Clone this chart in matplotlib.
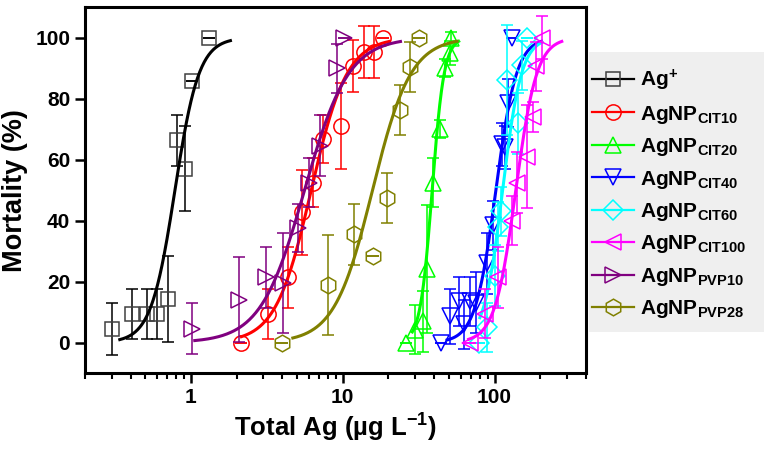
import matplotlib
matplotlib.use('Agg')
import matplotlib.pyplot as plt
from matplotlib.patches import Rectangle
import numpy as np

plt.rcParams['font.family'] = ['Liberation Sans', 'DejaVu Sans']
plt.rcParams['font.weight'] = 'bold'
plt.rcParams['mathtext.fontset'] = 'custom'
plt.rcParams['mathtext.rm'] = 'Liberation Sans:bold'
plt.rcParams['mathtext.bf'] = 'Liberation Sans:bold'
plt.rcParams['mathtext.default'] = 'bf'

# measured points (concentration in ug/L, mortality %, error)
ag_x = [0.30, 0.41, 0.51, 0.60, 0.71, 0.81, 0.92, 1.01, 1.32]
ag_y = [4.6, 9.4, 9.4, 9.4, 14.3, 66.3, 57, 85.7, 100]
ag_e = [8.5, 8.3, 8.3, 8.3, 14, 8.3, 14, 0, 0]

cit10_x = [2.15, 3.21, 4.35, 5.4, 6.41, 7.45, 9.73, 11.7, 13.8, 16.1, 18.3]
cit10_y = [0, 9.4, 21.4, 42.7, 52.4, 66.8, 71.1, 90.6, 95.3, 95.3, 100]
cit10_e = [0, 8.3, 10, 14, 8, 8, 14, 8.5, 8.4, 8.4, 0]

cit20_x = [26, 30, 34, 36, 39.4, 44, 47.5, 51, 52]
cit20_y = [0, 4.3, 7, 24, 52.4, 70, 90, 95, 100]
cit20_e = [0, 8, 10, 21, 8, 3, 3, 4, 2]

cit40_x = [44.7, 51, 58, 63, 69, 75, 89, 98, 112, 117, 123, 130]
cit40_y = [0, 8.6, 13.5, 6, 13.5, 13, 26, 38.5, 65, 64, 78.6, 100]
cit40_e = [0, 9, 8, 8, 8, 10, 10, 8, 7, 7, 8, 0]

cit60_x = [79, 89, 101, 106, 111, 120, 143, 151, 163]
cit60_y = [0, 5, 22, 38, 43, 86, 72, 91, 100]
cit60_e = [0, 8, 10, 8, 8, 18, 10, 8, 0]

cit100_x = [69, 87, 106, 130, 140, 163, 180, 188, 205]
cit100_y = [0, 9.5, 21.5, 40, 52.4, 61, 74, 90.6, 100]
cit100_e = [0, 8, 10, 8, 10, 17, 5, 8, 7]

pvp10_x = [1.02, 2.06, 3.1, 4.07, 5.06, 6.03, 7.08, 9.12, 10.2]
pvp10_y = [4.6, 14.1, 21.5, 19.6, 37.6, 52.4, 64.6, 90, 100]
pvp10_e = [8.4, 14, 10, 16.5, 8, 8, 10, 8, 0]

pvp28_x = [4.0, 8.0, 11.9, 15.9, 19.7, 23.7, 27.6, 31.7]
pvp28_y = [0, 18.8, 35.6, 28.3, 47.4, 76.2, 90.3, 100]
pvp28_e = [0, 16.4, 10, 0, 8.1, 8.2, 8.2, 0]

# log-logistic fit parameters: EC50, hill slope, fitted range
ec50 = [0.785, 6.2, 38.8, 102, 113, 138, 5.6, 15.7]
hill = [5.5, 3.7, 11, 6.4, 7, 6.3, 3.0, 3.45]
fit_lo = [0.34, 2.15, 28.7, 48.7, 80, 67.5, 1.06, 4.69]
fit_hi = [1.82, 20.2, 58, 204, 205, 277, 24, 56.6]

labels = [r'Ag$^{+}$', r'AgNP$_{CIT10}$', r'AgNP$_{CIT20}$', r'AgNP$_{CIT40}$',
          r'AgNP$_{CIT60}$', r'AgNP$_{CIT100}$', r'AgNP$_{PVP10}$', r'AgNP$_{PVP28}$']
colors = ['black', '#ff0000', '#00ff00', '#0000ff', '#00ffff', '#ff00ff', '#800080', '#808000']
markers = ['s', 'o', '^', 'v', 'D', '<', '>', 'h']
sizes = [10, 11, 12, 12, 10, 12, 12, 12]

xs = [ag_x, cit10_x, cit20_x, cit40_x, cit60_x, cit100_x, pvp10_x, pvp28_x]
ys = [ag_y, cit10_y, cit20_y, cit40_y, cit60_y, cit100_y, pvp10_y, pvp28_y]
es = [ag_e, cit10_e, cit20_e, cit40_e, cit60_e, cit100_e, pvp10_e, pvp28_e]

fig = plt.figure(figsize=(7.64, 4.49), dpi=100)
ax = fig.add_axes([0.111, 0.169, 0.656, 0.815])

handles = []
for i in range(8):
    mec = '#404040' if i == 0 else colors[i]
    ax.errorbar(xs[i], ys[i], yerr=es[i], fmt='none', ecolor=colors[i],
                elinewidth=1.1, capsize=4, capthick=1.1)
    ax.plot(xs[i], ys[i], linestyle='none', marker=markers[i], ms=sizes[i],
            mfc='none', mec=mec, mew=1.1)
    xf = np.logspace(np.log10(fit_lo[i]), np.log10(fit_hi[i]), 200)
    yf = 100 / (1 + 10 ** (hill[i] * (np.log10(ec50[i]) - np.log10(xf))))
    ax.plot(xf, yf, color=colors[i], lw=2.2)
    h, = ax.plot([], [], color=colors[i], lw=1.6, marker=markers[i], ms=sizes[i],
                 mfc='none', mec=mec, mew=1.1, label=labels[i])
    handles.append(h)

ax.set_xscale('log')
ax.set_xlim(0.2, 400)
ax.set_ylim(-10, 110)
ax.set_yticks([0, 20, 40, 60, 80, 100])
ax.set_xticks([1, 10, 100])
ax.set_xticklabels(['1', '10', '100'])
ax.tick_params(which='major', direction='out', length=7, width=1.8, labelsize=15)
ax.tick_params(which='minor', direction='out', length=4, width=1.5)
ax.tick_params(axis='y', which='minor', left=False)
for s in ax.spines.values():
    s.set_linewidth(2.2)

ax.set_xlabel(r'Total Ag (µg L$^{-1}$)', fontsize=18.5, fontweight='bold', labelpad=4)
ax.set_ylabel('Mortality (%)', fontsize=19.5, fontweight='bold', labelpad=5)

# grey legend panel
fig.patches.append(Rectangle((589 / 764, 1 - 332 / 449), 180 / 764, 280 / 449,
                             transform=fig.transFigure, facecolor='#efefef',
                             edgecolor='none', zorder=0))
leg = fig.legend(handles=handles, loc='upper left', bbox_to_anchor=(592 / 764, 1 - 68 / 449),
                 fontsize=15, handlelength=2.0, handletextpad=0.3, labelspacing=0.5,
                 borderpad=0, borderaxespad=0, frameon=False)

fig.savefig('out.png', dpi=100)
